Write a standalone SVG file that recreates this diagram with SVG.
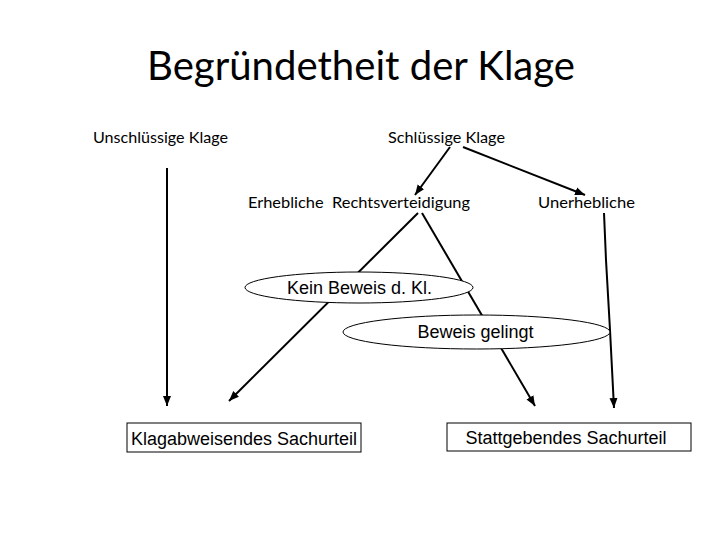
<svg xmlns="http://www.w3.org/2000/svg" width="720" height="540" viewBox="0 0 720 540">
<style>
.t{font-family:Lato,"Open Sans","Liberation Sans",sans-serif;fill:#000}
.a{font-family:"Liberation Sans",Arial,sans-serif;font-size:18px;fill:#000;text-anchor:middle}
.c{stroke:#000;stroke-width:2;fill:none;marker-end:url(#ah)}
.l{stroke:#000;stroke-width:2;fill:none}
.e{fill:#fff;stroke:#000;stroke-width:1}
.b{fill:#fff;stroke:#000;stroke-width:1}
</style>
<defs>
<marker id="ah" markerUnits="userSpaceOnUse" markerWidth="10" markerHeight="10" viewBox="0 0 10 10" refX="10" refY="5" orient="auto">
<path d="M0,1 L10,5 L0,9 Z" fill="#000"/>
</marker>
</defs>
<rect width="720" height="540" fill="#fff"/>
<g id="title"><text class="t" x="147" y="80" font-size="40" textLength="428" lengthAdjust="spacingAndGlyphs">Begründetheit der Klage</text></g>
<g id="connectors">
<line class="c" x1="167" y1="168" x2="167" y2="406"/>
<line class="c" x1="450" y1="147" x2="415" y2="195"/>
<line class="c" x1="463" y1="147" x2="585" y2="195"/>
<line class="c" x1="418" y1="213" x2="229" y2="401"/>
<line class="c" x1="422" y1="213" x2="535" y2="406"/>
<polyline class="c" points="604,213 606,260 610,330 614,408"/>
</g>
<g id="unschluessig"><text class="t" x="93" y="143" font-size="16" textLength="135" lengthAdjust="spacingAndGlyphs">Unschlüssige Klage</text></g>
<g id="schluessig"><text class="t" x="388" y="143" font-size="16" textLength="117" lengthAdjust="spacingAndGlyphs">Schlüssige Klage</text></g>
<g id="erheblich"><text class="t" x="248" y="208" font-size="16" textLength="222" lengthAdjust="spacingAndGlyphs" xml:space="preserve">Erhebliche  Rechtsverteidigung</text></g>
<g id="unerheblich"><text class="t" x="538" y="208" font-size="16" textLength="97" lengthAdjust="spacingAndGlyphs">Unerhebliche</text></g>
<g id="kein-beweis">
<ellipse class="e" cx="359" cy="287.5" rx="114" ry="15.5"/>
<text class="a" x="359.5" y="294">Kein Beweis d. Kl.</text>
</g>
<g id="beweis-gelingt">
<ellipse class="e" cx="476.5" cy="332" rx="133.5" ry="17"/>
<text class="a" x="475.5" y="338">Beweis gelingt</text>
</g>
<g id="klagabweisend">
<rect class="b" x="127" y="423" width="234" height="29"/>
<text class="a" x="244" y="445">Klagabweisendes Sachurteil</text>
</g>
<g id="stattgebend">
<rect class="b" x="447" y="423" width="244" height="28"/>
<text class="a" x="566" y="444">Stattgebendes Sachurteil</text>
</g>
</svg>
